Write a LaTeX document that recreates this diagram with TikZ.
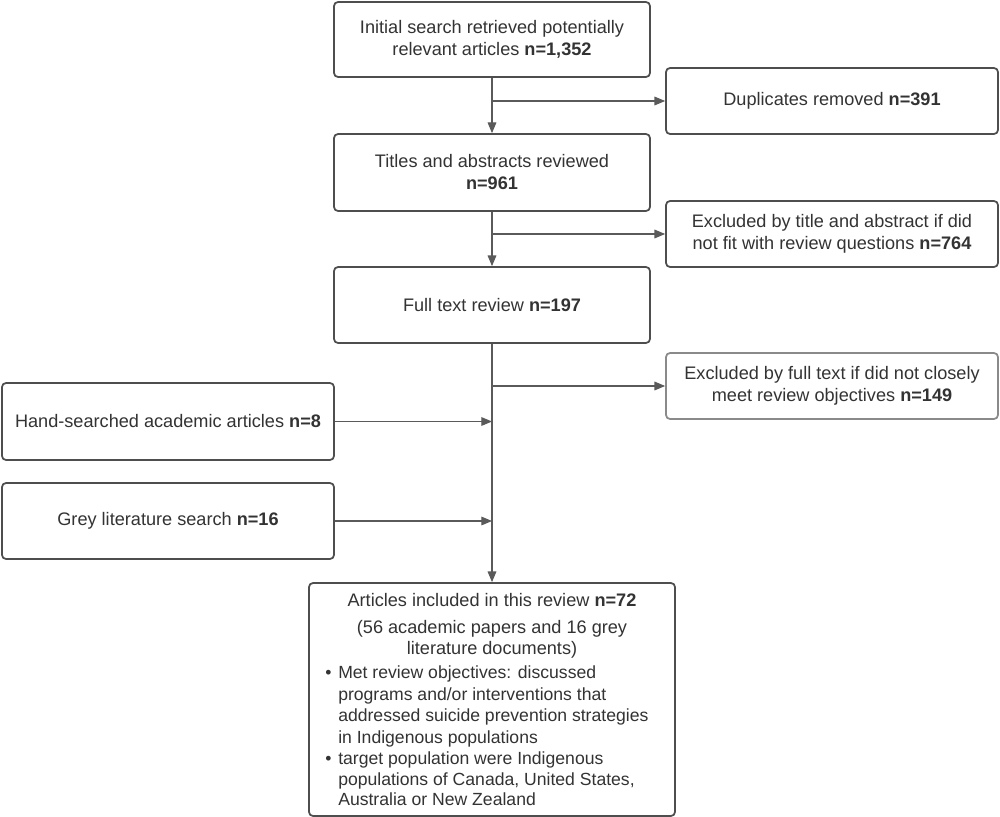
\documentclass[tikz,border=0pt]{standalone}
\usepackage{fontspec}
\setmainfont{Liberation Sans}
\usetikzlibrary{arrows.meta}
\definecolor{txt}{HTML}{333333}
\definecolor{bord}{HTML}{4e4e4e}
\definecolor{lbord}{HTML}{8a8a8a}
\definecolor{conn}{HTML}{5a5a5a}
\newcommand{\myfont}{\fontsize{13.6}{16.5}\selectfont}
\newcommand{\mysmallfont}{\fontsize{13.2}{16}\selectfont}
\begin{document}
\begin{tikzpicture}[x=0.75pt,y=-0.75pt,
  box/.style={draw=bord,line width=1.3pt,rounded corners=3pt,align=center,inner sep=0pt,text=txt,font=\myfont},
  arr/.style={draw=conn,line width=0.8pt,-{Triangle[length=8pt,width=6.5pt]}},
  tl/.style={text=txt,inner sep=0pt,font=\mysmallfont,anchor=base west},
  tc/.style={text=txt,inner sep=0pt,font=\myfont,anchor=base}]
\useasboundingbox (0,0) rectangle (1000,817);
\fill[white] (0,0) rectangle (1000,817);

\node[box,minimum width=237pt,minimum height=56.25pt] (b1) at (492,39.5)
  {Initial search retrieved potentially\\relevant articles \textbf{n=1,352}};
\node[box,minimum width=249pt,minimum height=49.5pt] (dup) at (832,101)
  {Duplicates removed \textbf{n=391}};
\node[box,minimum width=237pt,minimum height=57.75pt] (b2) at (492,172.5)
  {Titles and abstracts reviewed\\\textbf{n=961}};
\node[box,minimum width=249pt,minimum height=49.5pt] (ex1) at (832,234)
  {Excluded by title and abstract if did\\not fit with review questions \textbf{n=764}};
\node[box,minimum width=237pt,minimum height=57pt] (b3) at (492,305)
  {Full text review \textbf{n=197}};
\node[box,draw=lbord,minimum width=249pt,minimum height=49.5pt] (ex2) at (832,386)
  {Excluded by full text if did not closely\\meet review objectives \textbf{n=149}};
\node[box,minimum width=249pt,minimum height=57.75pt] (hand) at (168,421.5)
  {Hand-searched academic articles \textbf{n=8}};
\node[box,minimum width=249pt,minimum height=57pt] (grey) at (168,521)
  {Grey literature search \textbf{n=16}};
\node[box,minimum width=274.5pt,minimum height=174.75pt] (final) at (492,699.5) {};

\node[tc] (f1) at (492,606) {Articles included in this review \textbf{n=72}};
\node[tc] (f2) at (492,633) {(56 academic papers and 16 grey};
\node[tc] (f3) at (492,654) {literature documents)};
\node[tl] (u1) at (325,678) {•};
\node[tl] (f4) at (338,678) {Met review objectives: discussed};
\node[tl] (f5) at (338,700) {programs and/or interventions that};
\node[tl] (f6) at (338,721) {addressed suicide prevention strategies};
\node[tl] (f7) at (338,743) {in Indigenous populations};
\node[tl] (u2) at (325,764) {•};
\node[tl] (f8) at (338,764) {target population were Indigenous};
\node[tl] (f9) at (338,785) {populations of Canada, United States,};
\node[tl] (f10) at (338,805) {Australia or New Zealand};

\draw[arr] (b1.south) -- (b2.north);
\coordinate (j1) at (b1.south |- dup.west);
\draw[arr] (j1) -- (dup.west);
\draw[arr] (b2.south) -- (b3.north);
\coordinate (j2) at (b2.south |- ex1.west);
\draw[arr] (j2) -- (ex1.west);
\draw[arr] (b3.south) -- (final.north);
\coordinate (j3) at (b3.south |- ex2.west);
\draw[arr] (j3) -- (ex2.west);
\coordinate (j4) at (b3.south |- hand.east);
\draw[arr] (hand.east) -- (j4);
\coordinate (j5) at (b3.south |- grey.east);
\draw[arr] (grey.east) -- (j5);
\end{tikzpicture}
\end{document}
